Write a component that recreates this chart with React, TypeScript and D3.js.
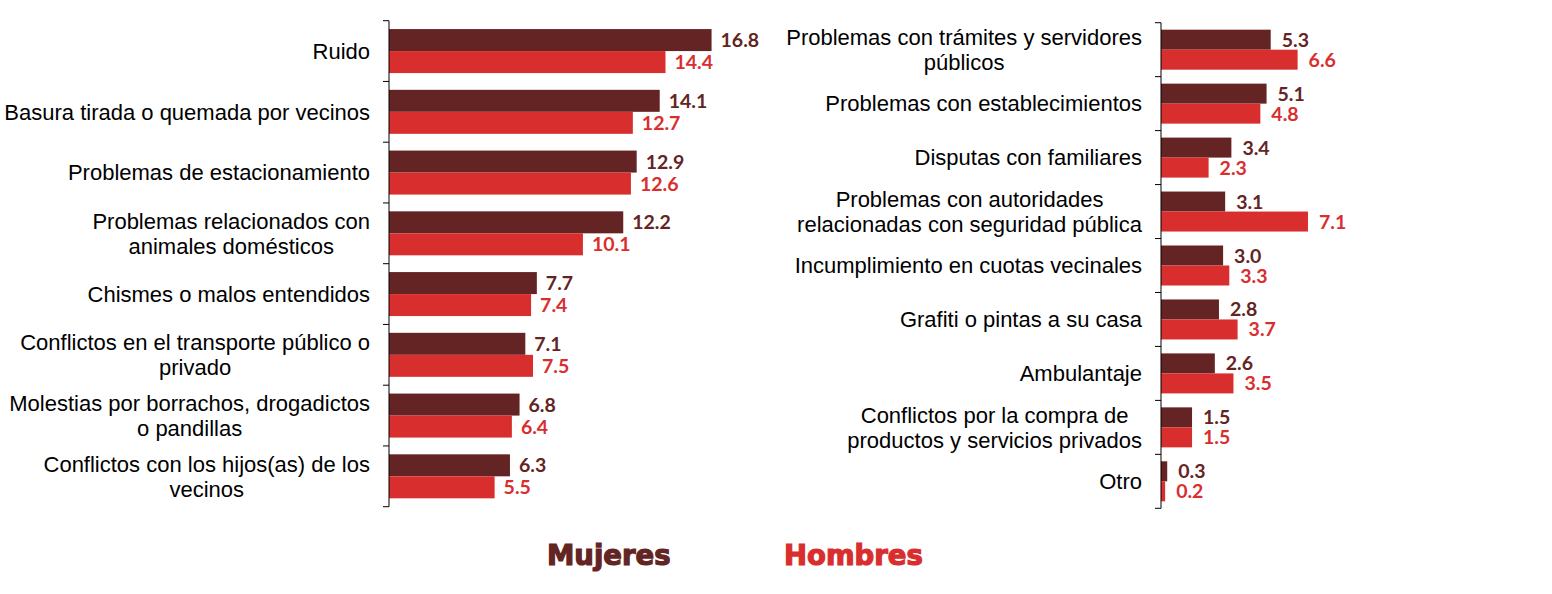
import React, { useEffect, useRef } from "react";
import * as d3 from "d3";

const leftCategories = [
  "Ruido",
  "Basura tirada o quemada por vecinos",
  "Problemas de estacionamiento",
  "Problemas relacionados con\nanimales domésticos",
  "Chismes o malos entendidos",
  "Conflictos en el transporte público o\nprivado",
  "Molestias por borrachos, drogadictos\no pandillas",
  "Conflictos con los hijos(as) de los\nvecinos",
];
const leftMujeres = [16.8, 14.1, 12.9, 12.2, 7.7, 7.1, 6.8, 6.3];
const leftHombres = [14.4, 12.7, 12.6, 10.1, 7.4, 7.5, 6.4, 5.5];

const rightCategories = [
  "Problemas con trámites y servidores\npúblicos",
  "Problemas con establecimientos",
  "Disputas con familiares",
  "Problemas con autoridades\nrelacionadas con seguridad pública",
  "Incumplimiento en cuotas vecinales",
  "Grafiti o pintas a su casa",
  "Ambulantaje",
  "Conflictos por la compra de\nproductos y servicios privados",
  "Otro",
];
const rightMujeres = [5.3, 5.1, 3.4, 3.1, 3.0, 2.8, 2.6, 1.5, 0.3];
const rightHombres = [6.6, 4.8, 2.3, 7.1, 3.3, 3.7, 3.5, 1.5, 0.2];

const seriesNames = ["Mujeres", "Hombres"];
const colors = ["#632423", "#d92e2e"];

type Panel = {
  cats: string[];
  m: number[];
  h: number[];
  x0: number;
  pxPerUnit: number;
  y0: number;
  y1: number;
  barH: number;
  labelOffset: number;
};

export default function App() {
  const ref = useRef<SVGSVGElement | null>(null);

  useEffect(() => {
    const svg = d3.select(ref.current);
    svg.selectAll("*").remove();

    const panels: Panel[] = [
      { cats: leftCategories, m: leftMujeres, h: leftHombres, x0: 389, pxPerUnit: 19.2, y0: 20.7, y1: 506.7, barH: 22, labelOffset: 9 },
      { cats: rightCategories, m: rightMujeres, h: rightHombres, x0: 1161, pxPerUnit: 20.7, y0: 22.7, y1: 508.3, barH: 20, labelOffset: 11 },
    ];

    panels.forEach((p) => {
      const g = svg.append("g");
      const x = d3.scaleLinear().domain([0, 1]).range([p.x0, p.x0 + p.pxPerUnit]);
      const y = d3.scaleBand<number>().domain(d3.range(p.cats.length)).range([p.y0, p.y1]).paddingInner(0).paddingOuter(0);
      const bw = y.bandwidth();
      const pad = (bw - 2 * p.barH) / 2;
      const inner = d3.scaleBand<number>().domain([0, 1]).range([pad, bw - pad]);

      // bars
      [p.m, p.h].forEach((vals, s) => {
        g.selectAll(null)
          .data(vals)
          .enter()
          .append("rect")
          .attr("x", x(0))
          .attr("y", (_d, i) => (y(i) as number) + (inner(s) as number))
          .attr("width", (d) => x(d) - x(0))
          .attr("height", inner.bandwidth())
          .attr("fill", colors[s]);
        g.selectAll(null)
          .data(vals)
          .enter()
          .append("text")
          .attr("x", (d) => x(d) + p.labelOffset)
          .attr("y", (_d, i) => (y(i) as number) + (inner(s) as number) + inner.bandwidth() / 2)
          .attr("dy", "0.36em")
          .attr("font-family", "Lato, 'Open Sans', sans-serif")
          .attr("font-weight", 700)
          .attr("font-size", 19.5)
          .attr("fill", colors[s])
          .text((d) => d.toFixed(1));
      });

      // axis
      const axis = g.append("g");
      axis.append("line")
        .attr("x1", p.x0).attr("x2", p.x0)
        .attr("y1", p.y0).attr("y2", p.y1)
        .attr("stroke", "#000").attr("stroke-width", 1);
      const ticks = d3.range(p.cats.length + 1).map((i) => p.y0 + i * bw);
      axis.selectAll(null).data(ticks).enter().append("line")
        .attr("x1", p.x0 - 6).attr("x2", p.x0)
        .attr("y1", (d) => d).attr("y2", (d) => d)
        .attr("stroke", "#000").attr("stroke-width", 1);

      // category labels
      const right = p.x0 - 19;
      p.cats.forEach((c, i) => {
        const lines = c.split("\n");
        const cy = (y(i) as number) + bw / 2;
        const lh = 25;
        const t = g.append("text")
          .attr("font-family", "'Liberation Sans', Arial, sans-serif")
          .attr("font-size", 22)
          .attr("fill", "#000");
        const spans = lines.map((ln, k) =>
          t.append("tspan")
            .attr("x", right)
            .attr("y", cy + (k - (lines.length - 1) / 2) * lh)
            .attr("dy", "0.35em")
            .attr("text-anchor", "end")
            .text(ln)
        );
        if (lines.length > 1) {
          const widths = spans.map((s) => (s.node() as SVGTextContentElement).getComputedTextLength());
          const W = Math.max(...widths);
          spans.forEach((s) => s.attr("text-anchor", "middle").attr("x", right - W / 2));
        }
      });
    });

    // legend
    const legendX = [547, 784];
    seriesNames.forEach((n, i) => {
      svg.append("text")
        .attr("x", legendX[i])
        .attr("y", 565)
        .attr("font-family", "'DejaVu Sans', sans-serif")
        .attr("font-weight", 700)
        .attr("font-size", 27.5)
        .attr("fill", colors[i])
        .attr("stroke", colors[i])
        .attr("stroke-width", 1.2)
        .text(n);
    });
  }, []);

  return (
    <svg
      ref={ref}
      width={1552}
      height={594}
      style={{ position: "absolute", left: 0, top: 0, background: "#fff" }}
    />
  );
}
